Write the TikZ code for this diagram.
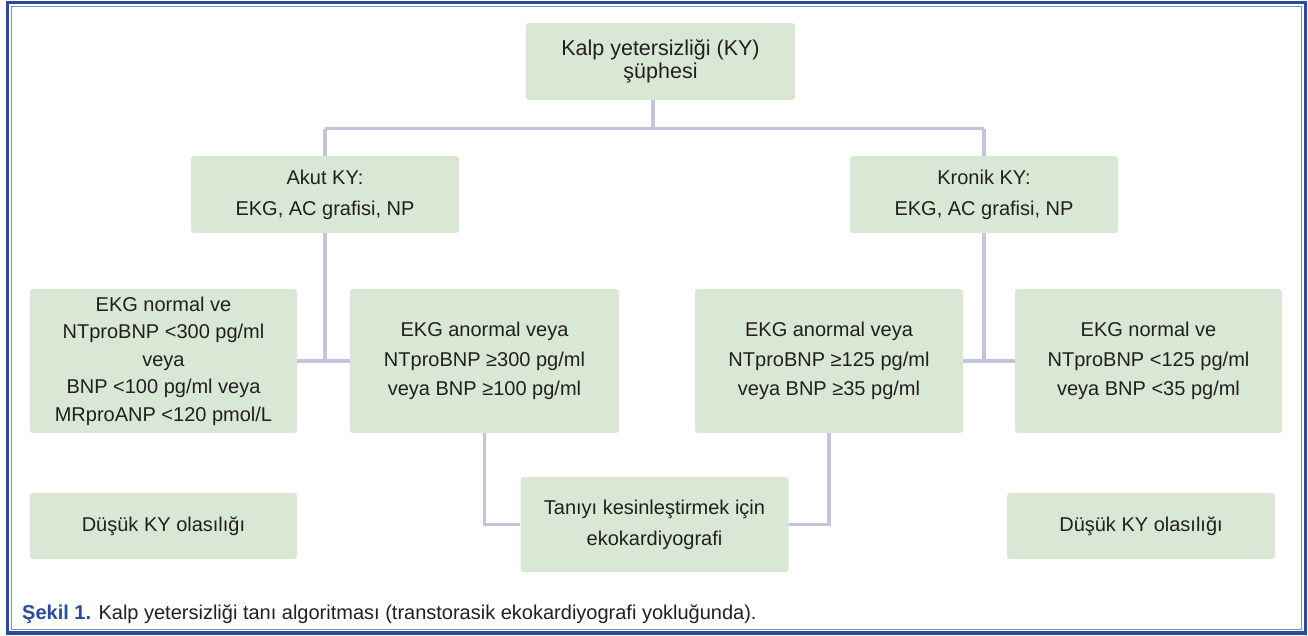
\documentclass[tikz,border=0pt]{standalone}
\usepackage{fontspec}
\setmainfont{Liberation Sans}
\definecolor{boxfill}{HTML}{D9E8D4}
\definecolor{lav}{HTML}{C6C3DF}
\definecolor{frameblue}{HTML}{2B4C9B}
\definecolor{framelight}{HTML}{7C8CC4}
\definecolor{txt}{HTML}{231F20}
\begin{document}
\begin{tikzpicture}[x=1pt,y=-1pt,
  box/.style={fill=boxfill, draw=none, rounded corners=3pt, align=center, text=txt,
    font=\fontsize{20}{30}\selectfont, inner sep=0pt},
  conn/.style={draw=lav, line width=3.5pt}]
\useasboundingbox (0,0) rectangle (1308,635);
\fill[white] (0,0) rectangle (1308,635);
% frame
\draw[frameblue, line width=3.5pt] (7.5,2.5) rectangle (1305.5,633);
\draw[framelight, line width=1pt] (11,6) rectangle (1301.5,629.5);
% nodes
\node[box, font=\fontsize{21.5}{23}\selectfont, minimum width=269pt, minimum height=77pt] (top) at (660.5,61.5) {Kalp yetersizliği (KY)\\şüphesi};
\node[box, font=\fontsize{20}{31}\selectfont, minimum width=268pt, minimum height=77pt] (akut) at (325,194.5) {Akut KY:\\EKG, AC grafisi, NP};
\node[box, font=\fontsize{20}{31}\selectfont, minimum width=268pt, minimum height=77pt] (kronik) at (984,194.5) {Kronik KY:\\EKG, AC grafisi, NP};
\node[box, font=\fontsize{20}{27.5}\selectfont, minimum width=267pt, minimum height=144pt] (b1) at (163.5,361) {EKG normal ve\\NTproBNP <300 pg/ml\\veya\\BNP <100 pg/ml veya\\MRproANP <120 pmol/L};
\node[box, font=\fontsize{20}{29.5}\selectfont, minimum width=269pt, minimum height=144pt] (b2) at (484.5,361) {EKG anormal veya\\NTproBNP ≥300 pg/ml\\veya BNP ≥100 pg/ml};
\node[box, font=\fontsize{20}{29.5}\selectfont, minimum width=268pt, minimum height=144pt] (b3) at (829,361) {EKG anormal veya\\NTproBNP ≥125 pg/ml\\veya BNP ≥35 pg/ml};
\node[box, font=\fontsize{20}{29.5}\selectfont, minimum width=267pt, minimum height=144pt] (b4) at (1148.5,361) {EKG normal ve\\NTproBNP <125 pg/ml\\veya BNP <35 pg/ml};
\node[box, font=\fontsize{20}{31}\selectfont, minimum width=268pt, minimum height=95pt] (tani) at (654.5,524.5) {Tanıyı kesinleştirmek için\\ekokardiyografi};
\node[box, minimum width=267pt, minimum height=66pt] (dl) at (163.5,526) {Düşük KY olasılığı};
\node[box, minimum width=268pt, minimum height=66pt] (dr) at (1141,526) {Düşük KY olasılığı};
% connectors
\coordinate (j) at (653,128.5);
\draw[conn] (j |- top.south) -- (j);
\draw[conn] (akut.north |- j) -- (kronik.north |- j);
\draw[conn] (akut.north |- j) -- (akut.north);
\draw[conn] (kronik.north |- j) -- (kronik.north);
\draw[conn] (b1.east) -- (b2.west);
\draw[conn] (akut.south) -- (akut.south |- b1.east);
\draw[conn] (b3.east) -- (b4.west);
\draw[conn] (kronik.south) -- (kronik.south |- b3.east);
\draw[conn] (b2.south) -- (b2.south |- tani.west) -- (tani.west);
\draw[conn] (b3.south) -- (b3.south |- tani.east) -- (tani.east);
% caption
\node[anchor=base west, inner sep=0pt, text=txt, font=\fontsize{20}{24}\selectfont] (cap) at (22,619)
  {\textcolor{frameblue}{\textbf{Şekil 1.}} Kalp yetersizliği tanı algoritması (transtorasik ekokardiyografi yokluğunda).};
\end{tikzpicture}
\end{document}
